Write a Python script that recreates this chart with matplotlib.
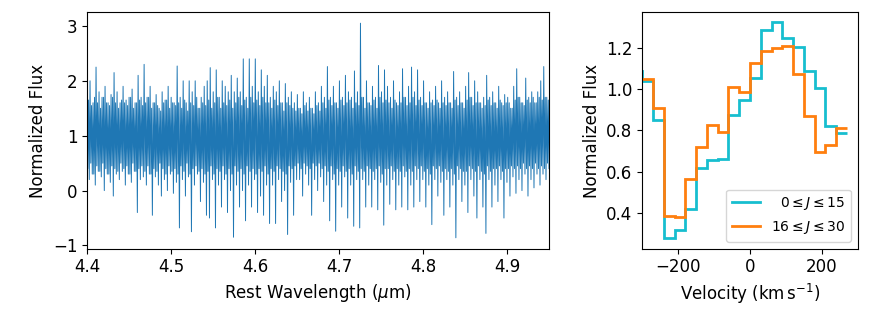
import numpy as np
import matplotlib
matplotlib.use("Agg")
import matplotlib.pyplot as plt

# ---- Left panel: spectrum, read column by column (about 3 px per column) ----
# upper excursion, lower excursion, and the edges of the dense core in each column
spec_highs = [
    1.7, 2.0, 1.6, 2.25, 1.8, 1.7, 1.9, 1.6, 1.75, 2.15,
    1.8, 1.6, 1.9, 1.65, 1.7, 1.85, 1.6, 2.1, 1.7, 2.3,
    1.7, 1.9, 1.6, 1.75, 1.5, 1.8, 1.65, 1.9, 1.7, 1.6,
    2.27, 1.7, 2.0, 1.6, 2.0, 1.8, 2.0, 1.5, 1.7, 1.9,
    2.0, 2.24, 1.8, 2.2, 1.7, 2.0, 1.9, 1.8, 2.1, 1.8,
    2.05, 1.8, 2.4, 1.7, 2.4, 1.9, 2.4, 1.8, 2.2, 1.9,
    2.1, 1.7, 1.9, 1.8, 2.0, 1.6, 1.95, 1.7, 1.8, 1.6,
    1.75, 1.5, 1.8, 1.6, 1.7, 1.5, 1.8, 1.6, 1.9, 1.7,
    2.26, 1.7, 1.9, 1.6, 2.0, 1.7, 2.1, 1.8, 1.7, 2.18,
    1.8, 3.05, 1.7, 2.0, 1.6, 1.9, 1.7, 2.28, 1.8, 2.2,
    1.9, 1.7, 2.0, 1.6, 1.8, 2.22, 1.7, 1.9, 2.25, 1.8,
    2.2, 1.7, 2.0, 1.6, 1.8, 1.65, 1.9, 1.6, 2.0, 1.7,
    1.8, 1.6, 2.17, 1.7, 1.8, 1.6, 1.9, 2.15, 1.7, 2.0,
    1.8, 1.6, 1.7, 2.1, 1.7, 1.8, 1.6, 1.9, 1.6, 1.75,
    1.7, 1.5, 1.9, 2.22, 1.7, 1.6, 2.05, 1.7, 1.8, 1.6,
    1.8, 2.0, 2.26, 1.7,
]
spec_lows = [
    0.2, 0.3, 0.1, 0.35, 0.25, 0.0, 0.3, 0.15, -0.1, 0.3,
    0.2, 0.35, 0.1, 0.3, 0.15, 0.35, -0.4, 0.2, 0.25, 0.1,
    0.3, -0.45, 0.25, 0.1, -0.1, 0.2, 0.0, 0.3, -0.05, 0.15,
    -0.68, 0.2, -0.1, 0.25, -0.75, 0.1, 0.3, -0.2, 0.15, -0.45,
    -0.5, 0.2, -0.68, 0.1, -0.3, 0.2, -0.4, 0.0, -0.85, 0.1,
    -0.3, 0.0, -0.55, 0.1, -0.3, 0.2, -0.4, -0.1, -0.45, 0.1,
    -0.6, 0.1, -0.6, 0.2, -0.2, 0.0, -0.8, 0.15, -0.45, 0.2,
    0.2, -0.1, 0.3, 0.1, -0.45, 0.2, 0.0, 0.25, -0.2, 0.1,
    -0.55, 0.2, -0.74, 0.1, -0.3, 0.25, -0.5, 0.1, -0.65, 0.2,
    -0.68, 0.2, -0.3, 0.1, -0.3, 0.2, -0.35, 0.15, -0.63, 0.1,
    -0.25, 0.2, -0.35, 0.1, -0.3, 0.25, -0.35, 0.1, -0.3, 0.2,
    -0.2, 0.2, -0.3, 0.1, -0.62, 0.2, -0.1, 0.15, -0.45, 0.2,
    -0.3, 0.1, -0.86, 0.2, -0.2, 0.1, -0.4, 0.2, -0.1, -0.5,
    0.2, -0.3, -0.78, 0.2, -0.3, 0.1, -0.2, 0.2, -0.5, 0.15,
    -0.1, 0.25, -0.05, 0.2, 0.0, 0.3, -0.1, 0.2, 0.05, 0.3,
    0.1, 0.3, 0.2, 0.4,
]
spec_core_hi = [
    1.65, 1.55, 1.7, 1.6, 1.5, 1.7, 1.6, 1.55, 1.7, 1.6,
    1.5, 1.65, 1.6, 1.55, 1.7, 1.5, 1.6, 1.65, 1.55, 1.6,
    1.7, 1.5, 1.6, 1.55, 1.45, 1.6, 1.65, 1.5, 1.6, 1.55,
    1.6, 1.5, 1.65, 1.45, 1.6, 1.55, 1.7, 1.5, 1.6, 1.55,
    1.65, 1.5, 1.6, 1.7, 1.5, 1.6, 1.55, 1.65, 1.5, 1.6,
    1.7, 1.55, 1.65, 1.5, 1.7, 1.6, 1.65, 1.55, 1.7, 1.6,
    1.6, 1.5, 1.65, 1.55, 1.6, 1.45, 1.6, 1.55, 1.5, 1.45,
    1.5, 1.4, 1.55, 1.45, 1.5, 1.4, 1.55, 1.45, 1.6, 1.5,
    1.65, 1.55, 1.6, 1.5, 1.65, 1.55, 1.6, 1.65, 1.5, 1.6,
    1.55, 1.7, 1.5, 1.6, 1.55, 1.65, 1.5, 1.7, 1.6, 1.65,
    1.6, 1.5, 1.65, 1.55, 1.6, 1.7, 1.55, 1.6, 1.7, 1.55,
    1.65, 1.55, 1.6, 1.5, 1.6, 1.55, 1.65, 1.5, 1.6, 1.55,
    1.6, 1.5, 1.65, 1.55, 1.6, 1.5, 1.65, 1.7, 1.55, 1.6,
    1.6, 1.5, 1.55, 1.65, 1.55, 1.6, 1.5, 1.65, 1.55, 1.6,
    1.6, 1.5, 1.65, 1.7, 1.6, 1.55, 1.65, 1.6, 1.7, 1.6,
    1.7, 1.65, 1.7, 1.65,
]
spec_core_lo = [
    0.4, 0.5, 0.3, 0.45, 0.35, 0.5, 0.4, 0.3, 0.45, 0.4,
    0.35, 0.5, 0.4, 0.45, 0.3, 0.5, 0.35, 0.4, 0.45, 0.35,
    0.45, 0.3, 0.4, 0.35, 0.5, 0.4, 0.3, 0.45, 0.35, 0.4,
    0.3, 0.45, 0.35, 0.5, 0.3, 0.4, 0.45, 0.35, 0.4, 0.3,
    0.35, 0.45, 0.3, 0.4, 0.35, 0.45, 0.3, 0.4, 0.3, 0.45,
    0.35, 0.4, 0.3, 0.45, 0.35, 0.4, 0.3, 0.4, 0.35, 0.45,
    0.3, 0.4, 0.35, 0.45, 0.4, 0.35, 0.3, 0.45, 0.4, 0.45,
    0.5, 0.4, 0.5, 0.45, 0.4, 0.5, 0.45, 0.5, 0.4, 0.45,
    0.35, 0.45, 0.3, 0.4, 0.35, 0.45, 0.35, 0.4, 0.3, 0.45,
    0.35, 0.4, 0.35, 0.45, 0.4, 0.35, 0.4, 0.45, 0.3, 0.4,
    0.4, 0.45, 0.35, 0.4, 0.35, 0.45, 0.35, 0.4, 0.35, 0.45,
    0.4, 0.45, 0.35, 0.4, 0.3, 0.45, 0.4, 0.45, 0.35, 0.4,
    0.35, 0.4, 0.3, 0.45, 0.4, 0.35, 0.35, 0.45, 0.4, 0.35,
    0.45, 0.35, 0.3, 0.45, 0.35, 0.4, 0.4, 0.45, 0.35, 0.4,
    0.4, 0.45, 0.4, 0.45, 0.4, 0.5, 0.4, 0.45, 0.4, 0.5,
    0.4, 0.45, 0.4, 0.5,
]
wave_min, wave_max = 4.4, 4.95
wave_ticks = [4.4, 4.5, 4.6, 4.7, 4.8, 4.9]

# ---- Right panel: stacked line profiles ----
vel_edges = [-330, -300, -270, -240, -210, -180, -150, -120, -90, -60, -30,
             0, 30, 60, 90, 120, 150, 180, 210, 240, 270]
flux_low_J = [1.09, 1.04, 0.85, 0.28, 0.318, 0.421, 0.616, 0.658, 0.661, 0.873,
              0.95, 1.053, 1.289, 1.324, 1.247, 1.203, 1.09, 1.008, 0.821, 0.789]
flux_high_J = [1.05, 1.05, 0.91, 0.384, 0.379, 0.563, 0.719, 0.826, 0.792, 1.011,
               0.987, 1.127, 1.185, 1.2, 1.208, 1.076, 0.869, 0.695, 0.731, 0.81]
labels = [r'$\ \ 0 \leq J \leq 15$', r'$16 \leq J \leq 30$']

plt.rcParams['font.size'] = 12

fig = plt.figure(figsize=(8.72, 3.12), dpi=100)
ax1 = fig.add_axes([0.0998, 0.2035, 0.5298, 0.7565])
ax2 = fig.add_axes([0.7366, 0.2035, 0.2470, 0.7565])

spec = np.column_stack([spec_highs, spec_core_lo, spec_core_hi, spec_lows]).ravel()
wave = np.linspace(wave_min, wave_max, spec.size)
ax1.plot(wave, spec, color='#1f77b4', lw=0.7)
ax1.set_xlim(wave_min, wave_max)
ax1.set_xticks(wave_ticks)
ax1.set_xlabel(r'Rest Wavelength ($\mu$m)')
ax1.set_ylabel('Normalized Flux')

ax2.stairs(flux_low_J, vel_edges, baseline=None, color='#17becf', lw=2, label=labels[0])
ax2.stairs(flux_high_J, vel_edges, baseline=None, color='#ff7f0e', lw=2, label=labels[1])
ax2.set_xlim(-300, 300)
ax2.set_ylim(0.228, 1.372)
ax2.set_xticks([-200, 0, 200])
ax2.set_yticks([0.4, 0.6, 0.8, 1.0, 1.2])
ax2.set_xlabel(r'Velocity (km$\,$s$^{-1}$)')
ax2.set_ylabel('Normalized Flux')
ax2.legend(loc='lower right', fontsize=10)

fig.savefig('out.png', dpi=100)
